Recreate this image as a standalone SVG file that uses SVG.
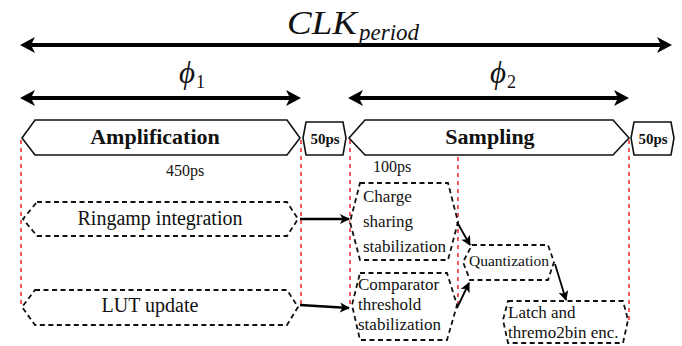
<svg xmlns="http://www.w3.org/2000/svg" width="682" height="346" viewBox="0 0 682 346">
<style>
text{font-family:"Liberation Serif","Times New Roman",serif;fill:#111}
.phase{fill:#fff;stroke:#111;stroke-width:1.6}
.task{fill:#fff;stroke:#111;stroke-width:1.8;stroke-dasharray:5 3.5}
.red{stroke:#ee3333;stroke-width:1.6;stroke-dasharray:4 4;fill:none}
.big{stroke:#000;stroke-width:4;fill:none}
.con{stroke:#000;stroke-width:2.6;fill:none}
.con2{stroke:#000;stroke-width:1.8;fill:none}
.lbl{font-size:20px}
.small{font-size:17px}
.bold{font-weight:bold}
</style>
<defs>
<marker id="bigHead" viewBox="-12 -9 18 18" refX="0" refY="0" markerWidth="18" markerHeight="18" markerUnits="userSpaceOnUse" orient="auto-start-reverse">
<path d="M4,0 L-11,-8 L-7,0 L-11,8 Z" fill="#000"/>
</marker>
<marker id="smallHead" viewBox="-10 -6 12 12" refX="0" refY="0" markerWidth="12" markerHeight="12" markerUnits="userSpaceOnUse" orient="auto">
<path d="M1,0 L-9,-5 L-6.5,0 L-9,5 Z" fill="#000"/>
</marker>
</defs>

<g id="guides">
<line class="red" x1="21" y1="140" x2="21" y2="305"/>
<line class="red" x1="301" y1="140" x2="301" y2="305"/>
<line class="red" x1="350" y1="140" x2="350" y2="305"/>
<line class="red" x1="458" y1="157" x2="458" y2="307"/>
<line class="red" x1="629" y1="140" x2="629" y2="320"/>
</g>

<g id="timing">
<line class="big" x1="24" y1="45" x2="668" y2="45" marker-start="url(#bigHead)" marker-end="url(#bigHead)"/>
<text x="287" y="34" font-size="33" font-style="italic" textLength="70" lengthAdjust="spacingAndGlyphs">CLK</text>
<text x="359" y="40" font-size="23" font-style="italic">period</text>
<line class="big" x1="24" y1="98" x2="297" y2="98" marker-start="url(#bigHead)" marker-end="url(#bigHead)"/>
<text x="179" y="83" font-size="31" font-style="italic">ϕ<tspan font-size="18" font-style="normal" dx="1" dy="5">1</tspan></text>
<line class="big" x1="352" y1="98" x2="625" y2="98" marker-start="url(#bigHead)" marker-end="url(#bigHead)"/>
<text x="490" y="83" font-size="31" font-style="italic">ϕ<tspan font-size="18" font-style="normal" dx="1" dy="5">2</tspan></text>
</g>

<g id="amplification">
<polygon class="phase" points="35,120 287,120 300,138 287,155 35,155 22,138"/>
<text x="155" y="144" font-size="22" class="bold" text-anchor="middle">Amplification</text>
</g>
<g id="gap1">
<polygon class="phase" points="306,122 343,122 346,138 343,155 306,155 303,138"/>
<text x="325" y="144" font-size="15" class="bold" text-anchor="middle">50ps</text>
</g>
<g id="sampling">
<polygon class="phase" points="365,120 613,120 629,138 613,155 365,155 349,138"/>
<text x="490" y="144" font-size="22" class="bold" text-anchor="middle">Sampling</text>
</g>
<g id="gap2">
<polygon class="phase" points="634,122 671,122 674,138 671,155 634,155 631,138"/>
<text x="653" y="144" font-size="15" class="bold" text-anchor="middle">50ps</text>
</g>
<text x="185" y="176" font-size="16" text-anchor="middle">450ps</text>
<text x="392" y="172" font-size="16" text-anchor="middle">100ps</text>

<g id="ringamp">
<polygon class="task" points="37,202 287,202 298,219 287,236 37,236 23,219"/>
<text class="lbl" x="160" y="225" text-anchor="middle">Ringamp integration</text>
</g>
<g id="lut">
<polygon class="task" points="35,290 287,290 298,307 287,325 35,325 22,307"/>
<text class="lbl" x="150" y="312" text-anchor="middle">LUT update</text>
</g>
<g id="charge">
<polygon class="task" points="360,183 448,183 458,222 448,260 360,260 350,222"/>
<text class="small" x="363" y="202">Charge</text>
<text class="small" x="363" y="227">sharing</text>
<text class="small" x="363" y="252">stabilization</text>
</g>
<g id="comparator">
<polygon class="task" points="360,273 447,273 457,305 447,340 360,340 352,305"/>
<text class="small" x="358" y="290">Comparator</text>
<text class="small" x="358" y="310">threshold</text>
<text class="small" x="358" y="330">stabilization</text>
</g>
<g id="quantization">
<polygon class="task" points="472,245 548,245 554,262 548,280 470,280 463,262"/>
<text x="509" y="266" font-size="15.5" text-anchor="middle">Quantization</text>
</g>
<g id="latch">
<polygon class="task" points="508,301 623,301 628,320 623,343 508,343 503,320"/>
<text class="small" x="508" y="318">Latch and</text>
<text class="small" x="508" y="338">thremo2bin enc.</text>
</g>

<g id="connectors">
<line class="con" x1="300" y1="219" x2="349" y2="219" marker-end="url(#smallHead)"/>
<line class="con" x1="300" y1="305" x2="349" y2="308" marker-end="url(#smallHead)"/>
<line class="con2" x1="457" y1="222" x2="470" y2="245" marker-end="url(#smallHead)"/>
<line class="con2" x1="457" y1="308" x2="469" y2="283" marker-end="url(#smallHead)"/>
<line class="con2" x1="555" y1="264" x2="566" y2="300" marker-end="url(#smallHead)"/>
</g>
</svg>
